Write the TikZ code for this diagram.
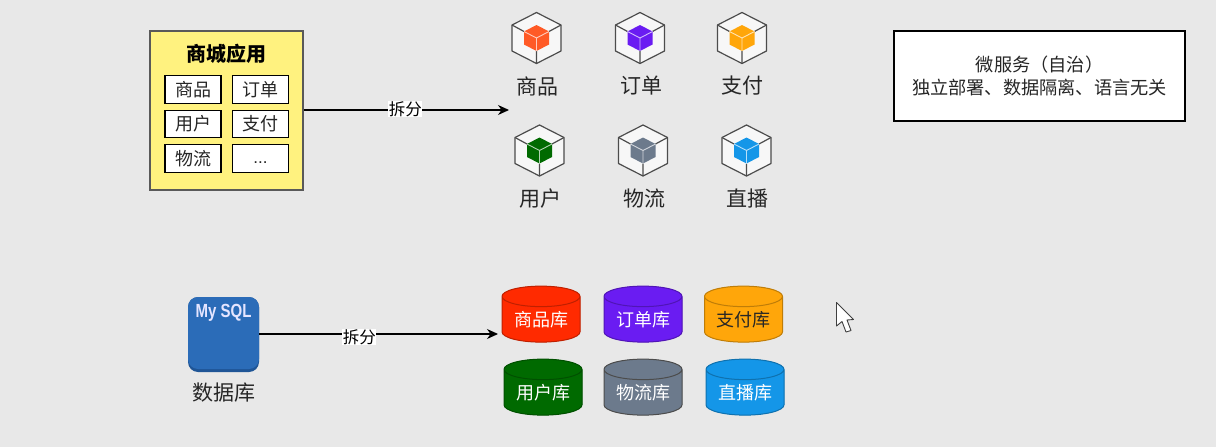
\documentclass[tikz,border=0pt]{standalone}
\usepackage{fontspec}
\setmainfont{Noto Sans CJK SC}
\newfontfamily\latinbold{Liberation Sans}[BoldFont={Liberation Sans Bold}]
\newfontfamily\latinreg{Liberation Sans}
\usetikzlibrary{arrows.meta,shapes.geometric}
\definecolor{bgc}{HTML}{E8E8E8}
\newcommand{\fs}[1]{\fontsize{#1}{#1}\selectfont}
\tikzset{
  x=1pt,y=-1pt,
  appbox/.style={draw=black!65,line width=1.2pt,minimum width=153pt,minimum height=159pt,inner sep=0pt},
  modbox/.style={draw=black,line width=1.2pt,fill=white,minimum width=56pt,minimum height=27.5pt,inner sep=0pt,font=\fs{18},text=black!85},
  toplabel/.style={font=\fs{21},text=black!85,inner sep=0pt},
  splitlabel/.style={fill=white,font=\fs{16.5},inner sep=0.5pt},
  splitarrow/.style={draw=black,line width=1.1pt,-{Stealth[length=11pt,width=10pt]}},
  dbcyl/.style={cylinder,shape border rotate=90,aspect=0.38,draw=#1!75!black,fill=#1,line width=1pt,minimum width=78pt,minimum height=56pt,inner sep=0pt,font=\fs{18},text=white,cylinder uses custom fill,cylinder body fill=#1,cylinder end fill=#1},
  infobox/.style={draw=black,line width=1.2pt,fill=white,minimum width=291pt,minimum height=90pt,inner sep=0pt,align=center,font=\fs{18.2},text=black!85},
  pics/cube/.style={code={
    \draw[draw=black!70,fill=white!97!black,line width=1.2pt,line join=round]
      (0,-25.5) -- (24.5,-13) -- (24.5,13) -- (0,25.5) -- (-24.5,13) -- (-24.5,-13) -- cycle;
    \draw[draw=black!70,line width=1.2pt] (24.5,-13) -- (12.5,-6.5) (-24.5,-13) -- (-12.5,-6.5) (0,25.5) -- (0,13);
    \fill[#1] (0,-13) -- (12.5,-6.5) -- (12.5,6.5) -- (0,13) -- (-12.5,6.5) -- (-12.5,-6.5) -- cycle;
    \draw[draw=white!70!#1,line width=0.9pt] (0,0) -- (12.5,-6.5) (0,0) -- (-12.5,-6.5) (0,0) -- (0,13);
  }}
}
\definecolor{cred}{HTML}{FF5A26}
\definecolor{cvio}{HTML}{6A1CF2}
\definecolor{cora}{HTML}{FFA60A}
\definecolor{cgre}{HTML}{006A00}
\definecolor{cgry}{HTML}{6C7A8C}
\definecolor{cblu}{HTML}{1496E8}
\definecolor{dred}{HTML}{FF2A00}
\definecolor{appy}{HTML}{FFF27F}
\definecolor{mysqlb}{HTML}{2B6CB8}
\definecolor{mysqld}{HTML}{1F5596}
\begin{document}
\begin{tikzpicture}
\useasboundingbox[fill=bgc] (0,0) rectangle (1216,447);

% monolith
\node[appbox,fill=appy] (app) at (226.5,110.5) {};
\node[font=\fs{20}\bfseries,inner sep=0pt] (apptitle) at (226,54) {商城应用};
\node[modbox] (m1) at (193,89.5) {商品};
\node[modbox] (m2) at (260.5,89.5) {订单};
\node[modbox] (m3) at (193,124) {用户};
\node[modbox] (m4) at (260.5,124) {支付};
\node[modbox] (m5) at (193,158.5) {物流};
\node[modbox,font=\latinreg\fs{17}] (m6) at (260.5,158.5) {\smash{\raisebox{-5pt}{...}}};

% services
\pic at (536.5,38) {cube=cred};
\pic at (640,38) {cube=cvio};
\pic at (742,38) {cube=cora};
\pic at (539.5,150.5) {cube=cgre};
\pic at (643,150.5) {cube=cgry};
\pic at (746.5,150.5) {cube=cblu};
\node[toplabel] (s1) at (537.5,86) {商品};
\node[toplabel] (s2) at (641,86) {订单};
\node[toplabel] (s3) at (742.5,86) {支付};
\node[toplabel] (s4) at (540,198.5) {用户};
\node[toplabel] (s5) at (644,198.5) {物流};
\node[toplabel] (s6) at (747.5,198.5) {直播};

\coordinate (appto) at (509,110);
\draw[splitarrow] (app.east |- appto) -- node[splitlabel,pos=0.495,yshift=1pt] (lab1) {拆分} (appto);

% info box
\node[infobox] (info) at (1039.5,76) {微服务（自治）\\[4pt]独立部署、数据隔离、语言无关};

% mysql
\fill[mysqld,rounded corners=10pt] (188,297) rectangle (259,372);
\node[fill=mysqlb,rounded corners=10pt,minimum width=71pt,minimum height=72pt,inner sep=0pt] (mysql) at (223.5,333) {};
\node[font=\latinbold\fs{19}\bfseries,text=white!90!blue,inner sep=0pt,xscale=0.79] (mysqltxt) at (223.5,313) {My SQL};
\node[font=\fs{21},text=black!85,inner sep=0pt] (dblab) at (224,393) {数据库};
\coordinate (dbto) at (498,334);
\draw[splitarrow] (mysql.east |- dbto) -- node[splitlabel,pos=0.42,yshift=-3pt] (lab2) {拆分} (dbto);

% databases
\node[dbcyl=dred] (d1) at (541,319.5) {商品库};
\node[dbcyl=cvio] (d2) at (643,319.5) {订单库};
\node[dbcyl=cora,text=black!85] (d3) at (743.5,319.5) {支付库};
\node[dbcyl=cgre] (d4) at (543,392.5) {用户库};
\node[dbcyl=cgry,draw=black!70] (d5) at (643,392.5) {物流库};
\node[dbcyl=cblu] (d6) at (745,392.5) {直播库};

% mouse pointer
\draw[draw=black!75,fill=white,line width=0.9pt,line join=round]
  (836.5,302.5) -- (836.5,326) -- (842,321.5) -- (846,332) -- (851,330.5) -- (847,320) -- (853.5,319.5) -- cycle;
\end{tikzpicture}
\end{document}
